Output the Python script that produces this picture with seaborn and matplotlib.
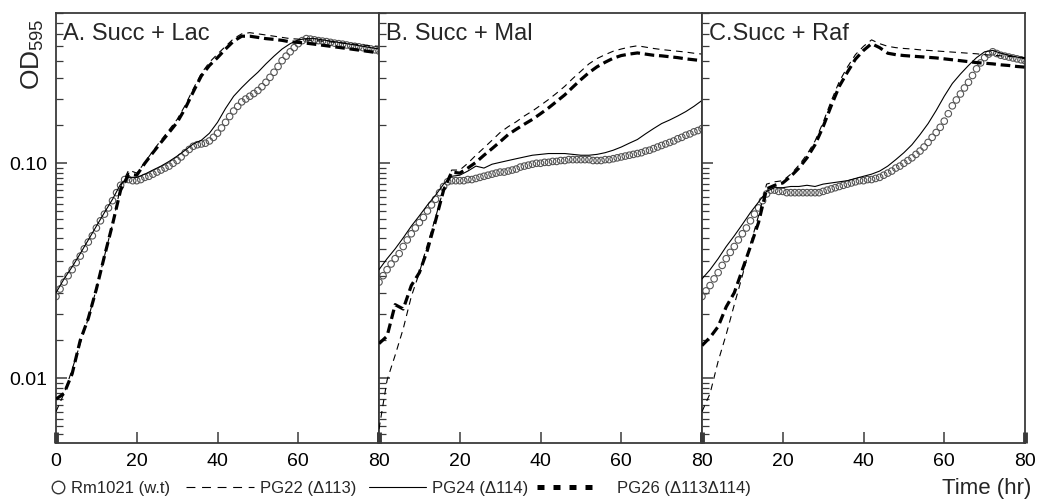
import pandas as pd
import numpy as np
import matplotlib
matplotlib.use("Agg")
import matplotlib.pyplot as plt
import matplotlib.ticker as mticker
from matplotlib.lines import Line2D
import seaborn as sns

# ---- data (OD595) ----
# lines sampled every 2 h, the open-circle wild type every 1 h
time_hr = list(range(0, 81, 2))
time_wt = list(range(0, 81))
strains = ['Rm1021', 'PG22', 'PG24', 'PG26']
panel_titles = ['A. Succ + Lac', 'B. Succ + Mal', 'C.Succ + Raf']
legend_labels = ['Rm1021 (w.t)', 'PG22 (\u0394113)', 'PG24 (\u0394114)', 'PG26 (\u0394113\u0394114)']

lac_rm1021 = [0.024, 0.026, 0.028, 0.030, 0.032, 0.0345, 0.037, 0.040, 0.043, 0.046,
              0.050, 0.054, 0.058, 0.062, 0.067, 0.073, 0.079, 0.084, 0.084, 0.083,
              0.083, 0.084, 0.086, 0.087, 0.089, 0.091, 0.093, 0.095, 0.097, 0.100,
              0.103, 0.107, 0.112, 0.116, 0.120, 0.122, 0.123, 0.124, 0.127, 0.132,
              0.138, 0.146, 0.155, 0.165, 0.175, 0.184, 0.193, 0.199, 0.205, 0.211,
              0.218, 0.227, 0.238, 0.251, 0.265, 0.282, 0.300, 0.315, 0.330, 0.345,
              0.360, 0.372, 0.380, 0.378, 0.375, 0.372, 0.370, 0.368, 0.365, 0.362,
              0.360, 0.358, 0.355, 0.352, 0.350, 0.348, 0.345, 0.342, 0.340, 0.337, 0.333]
lac_pg22 = [0.007, 0.0085, 0.011, 0.0145, 0.019, 0.026, 0.037, 0.052, 0.078, 0.093, 0.090,
            0.101, 0.114, 0.128, 0.143, 0.160, 0.186, 0.222, 0.262, 0.295, 0.322,
            0.350, 0.380, 0.400, 0.405, 0.400, 0.395, 0.390, 0.385, 0.380, 0.378,
            0.375, 0.372, 0.370, 0.367, 0.364, 0.361, 0.358, 0.355, 0.352, 0.350]
lac_pg24 = [0.025, 0.029, 0.033, 0.038, 0.044, 0.051, 0.059, 0.068, 0.080, 0.086, 0.086,
            0.089, 0.093, 0.097, 0.102, 0.108, 0.115, 0.123, 0.128, 0.138, 0.155,
            0.180, 0.205, 0.225, 0.245, 0.265, 0.290, 0.315, 0.340, 0.360, 0.375,
            0.380, 0.380, 0.375, 0.370, 0.365, 0.360, 0.355, 0.350, 0.345, 0.340]
lac_pg26 = [0.008, 0.0085, 0.0105, 0.015, 0.019, 0.026, 0.037, 0.052, 0.075, 0.089, 0.088,
            0.100, 0.112, 0.125, 0.139, 0.155, 0.180, 0.215, 0.255, 0.285, 0.310,
            0.340, 0.370, 0.390, 0.390, 0.385, 0.380, 0.377, 0.373, 0.367, 0.365,
            0.362, 0.358, 0.354, 0.350, 0.346, 0.342, 0.338, 0.334, 0.330, 0.326]

mal_rm1021 = [0.028, 0.030, 0.032, 0.034, 0.036, 0.038, 0.041, 0.044, 0.047, 0.050,
              0.053, 0.056, 0.060, 0.064, 0.068, 0.073, 0.078, 0.082, 0.083, 0.083,
              0.083, 0.083, 0.084, 0.084, 0.085, 0.086, 0.087, 0.088, 0.089, 0.090,
              0.091, 0.091, 0.092, 0.093, 0.094, 0.096, 0.097, 0.098, 0.099, 0.100,
              0.100, 0.101, 0.101, 0.102, 0.102, 0.103, 0.103, 0.104, 0.104, 0.104,
              0.104, 0.104, 0.104, 0.103, 0.103, 0.103, 0.104, 0.104, 0.105, 0.106,
              0.107, 0.108, 0.109, 0.110, 0.111, 0.112, 0.114, 0.115, 0.117, 0.119,
              0.121, 0.123, 0.125, 0.127, 0.130, 0.132, 0.135, 0.137, 0.140, 0.142, 0.145]
mal_pg22 = [0.0058, 0.0098, 0.0128, 0.017, 0.024, 0.031, 0.042, 0.056, 0.076, 0.093, 0.093,
            0.100, 0.109, 0.118, 0.128, 0.139, 0.148, 0.156, 0.166, 0.175, 0.186,
            0.198, 0.212, 0.228, 0.248, 0.268, 0.290, 0.307, 0.320, 0.332, 0.340,
            0.347, 0.352, 0.347, 0.342, 0.338, 0.335, 0.332, 0.329, 0.325, 0.322]
mal_pg24 = [0.032, 0.036, 0.040, 0.045, 0.051, 0.057, 0.064, 0.071, 0.080, 0.087, 0.088,
            0.092, 0.097, 0.095, 0.099, 0.101, 0.103, 0.105, 0.107, 0.109, 0.110,
            0.111, 0.111, 0.111, 0.110, 0.109, 0.109, 0.110, 0.112, 0.115, 0.119,
            0.124, 0.129, 0.137, 0.145, 0.153, 0.159, 0.166, 0.174, 0.184, 0.196]
mal_pg26 = [0.0145, 0.0157, 0.022, 0.021, 0.027, 0.031, 0.0395, 0.054, 0.075, 0.091, 0.090,
            0.095, 0.101, 0.109, 0.117, 0.126, 0.136, 0.144, 0.152, 0.160, 0.170,
            0.181, 0.194, 0.208, 0.226, 0.245, 0.264, 0.281, 0.295, 0.308, 0.317,
            0.322, 0.326, 0.322, 0.318, 0.316, 0.313, 0.310, 0.306, 0.303, 0.300]

raf_rm1021 = [0.024, 0.0255, 0.027, 0.029, 0.031, 0.0335, 0.036, 0.0385, 0.041, 0.044,
              0.047, 0.050, 0.054, 0.058, 0.062, 0.067, 0.072, 0.075, 0.075, 0.074,
              0.074, 0.073, 0.073, 0.073, 0.073, 0.073, 0.073, 0.073, 0.073, 0.073,
              0.074, 0.075, 0.076, 0.077, 0.078, 0.079, 0.080, 0.081, 0.082, 0.083,
              0.083, 0.084, 0.084, 0.085, 0.086, 0.088, 0.090, 0.092, 0.095, 0.097,
              0.100, 0.103, 0.106, 0.110, 0.114, 0.119, 0.125, 0.132, 0.139, 0.147,
              0.157, 0.170, 0.185, 0.197, 0.210, 0.224, 0.238, 0.256, 0.275, 0.293,
              0.310, 0.322, 0.330, 0.324, 0.318, 0.315, 0.312, 0.309, 0.306, 0.303, 0.300]
raf_pg22 = [0.007, 0.0085, 0.012, 0.016, 0.022, 0.030, 0.042, 0.057, 0.080, 0.082, 0.083,
            0.089, 0.098, 0.110, 0.127, 0.155, 0.195, 0.240, 0.280, 0.320, 0.350,
            0.375, 0.360, 0.350, 0.345, 0.342, 0.340, 0.337, 0.335, 0.333, 0.331,
            0.329, 0.327, 0.325, 0.323, 0.320, 0.318, 0.316, 0.314, 0.312, 0.310]
raf_pg24 = [0.029, 0.032, 0.036, 0.041, 0.046, 0.052, 0.059, 0.066, 0.074, 0.077, 0.077,
            0.078, 0.078, 0.079, 0.078, 0.080, 0.081, 0.082, 0.083, 0.085, 0.087,
            0.089, 0.092, 0.097, 0.104, 0.112, 0.122, 0.136, 0.153, 0.176, 0.205,
            0.235, 0.260, 0.285, 0.310, 0.330, 0.335, 0.325, 0.318, 0.312, 0.306]
raf_pg26 = [0.0142, 0.0155, 0.0174, 0.0215, 0.025, 0.032, 0.041, 0.053, 0.076, 0.079, 0.081,
            0.087, 0.095, 0.106, 0.122, 0.148, 0.185, 0.228, 0.265, 0.305, 0.335,
            0.360, 0.345, 0.325, 0.320, 0.317, 0.315, 0.313, 0.311, 0.309, 0.306,
            0.303, 0.300, 0.297, 0.294, 0.292, 0.290, 0.287, 0.285, 0.282, 0.280]

panels = {
    panel_titles[0]: [lac_rm1021, lac_pg22, lac_pg24, lac_pg26],
    panel_titles[1]: [mal_rm1021, mal_pg22, mal_pg24, mal_pg26],
    panel_titles[2]: [raf_rm1021, raf_pg22, raf_pg24, raf_pg26],
}

rows = []
for title, series in panels.items():
    for strain, vals in zip(strains, series):
        times = time_wt if strain == 'Rm1021' else time_hr
        for t, v in zip(times, vals):
            rows.append({'panel': title, 'strain': strain, 'time': t, 'od': v})
df = pd.DataFrame(rows)

# ---- style ----
sns.set_style("ticks")
plt.rcParams.update({
    "font.family": ["Liberation Sans", "DejaVu Sans"],
    "mathtext.default": "regular",
    "axes.edgecolor": "#3a3a3a",
    "xtick.color": "#3a3a3a",
    "ytick.color": "#3a3a3a",
    "xtick.labelcolor": "black",
    "ytick.labelcolor": "black",
})

W, H = 1037, 501
fig = plt.figure(figsize=(W / 100, H / 100), dpi=100)
lefts = [56, 379, 702]
ax_w = 323

line_palette = {'PG22': 'black', 'PG24': 'black', 'PG26': 'black'}
line_dashes = {'PG22': (6, 4.5), 'PG24': '', 'PG26': (3, 1.5)}
line_sizes = {'PG22': 0.8, 'PG24': 0.8, 'PG26': 2.3}

# minor ticks at every half unit of each decade, as on the original axis
minor_y = np.round(np.concatenate([np.arange(0.0055, 0.00999, 0.0005),
                                   np.arange(0.015, 0.0999, 0.005),
                                   np.arange(0.15, 0.501, 0.05)]), 5)

for i, (title, left) in enumerate(zip(panel_titles, lefts)):
    ax = fig.add_axes([left / W, 58 / H, ax_w / W, 430 / H])
    sub = df[df['panel'] == title]

    circ = sub[sub['strain'] == 'Rm1021']
    sns.scatterplot(data=circ, x='time', y='od', ax=ax, marker='o', s=22,
                    facecolors='none', edgecolors='#555555', linewidth=0.8,
                    legend=False, zorder=2)

    lines = sub[sub['strain'] != 'Rm1021']
    sns.lineplot(data=lines, x='time', y='od', hue='strain', style='strain', size='strain',
                 palette=line_palette, dashes=line_dashes, sizes=line_sizes,
                 estimator=None, ax=ax, legend=False, zorder=3)

    ax.set_yscale('log')
    ax.set_ylim(0.005, 0.5)
    ax.set_xlim(0, 80)
    ax.set_xticks([0, 20, 40, 60, 80])
    if i > 0:
        ax.set_xticklabels(['', '20', '40', '60', '80'])
    ax.yaxis.set_major_locator(mticker.FixedLocator([0.01, 0.1]))
    ax.yaxis.set_major_formatter(mticker.FixedFormatter(['0.01', '0.10']))
    ax.yaxis.set_minor_locator(mticker.FixedLocator(minor_y))
    ax.yaxis.set_minor_formatter(mticker.NullFormatter())
    ax.tick_params(axis='both', which='major', direction='in', length=8, width=1.1,
                   labelsize=14)
    ax.tick_params(axis='x', pad=7)
    ax.tick_params(axis='y', pad=6)
    ax.tick_params(axis='y', which='minor', direction='in', length=5, width=0.9,
                   left=True)
    ax.tick_params(axis='x', which='minor', bottom=False)
    if i > 0:
        ax.tick_params(axis='y', labelleft=False)
    for sp in ax.spines.values():
        sp.set_linewidth(1.3)
    xt = ax.xaxis.get_major_ticks()
    for k in (0, -1):
        xt[k].tick1line.set_markeredgewidth(3.5)
    ax.set_xlabel('')
    ax.set_ylabel('')
    ax.text(0.023, 0.976, title, transform=ax.transAxes, ha='left', va='top', fontsize=17)

fig.text(33 / W, 1 - 18 / H, 'OD$_{595}$', rotation=90, ha='center', va='top', fontsize=19)
fig.text(1031 / W, 2 / H, 'Time (hr)', ha='right', va='bottom', fontsize=16)

# ---- legend along the bottom ----
handles = [
    Line2D([], [], linestyle='none', marker='o', markersize=9, markerfacecolor='none',
           markeredgecolor='#333333', markeredgewidth=1.0),
    Line2D([], [], color='black', lw=0.8, linestyle=(0, (8, 6))),
    Line2D([], [], color='black', lw=0.8),
    Line2D([], [], color='black', lw=3.6, linestyle=(0, (1.4, 1.8))),
]
leg_x = [50, 186, 369, 537]
leg_len = [0.9, 4.1, 3.4, 3.8]
leg_pad = [0.35, 0.35, 0.35, 1.0]
for h, lab, x, hl, tp in zip(handles, legend_labels, leg_x, leg_len, leg_pad):
    fig.legend([h], [lab], loc='center left', bbox_to_anchor=(x / W, 1 - 488 / H),
               frameon=False, fontsize=12, handlelength=hl, handletextpad=tp,
               borderpad=0, borderaxespad=0)

fig.savefig('out.png', dpi=100)
